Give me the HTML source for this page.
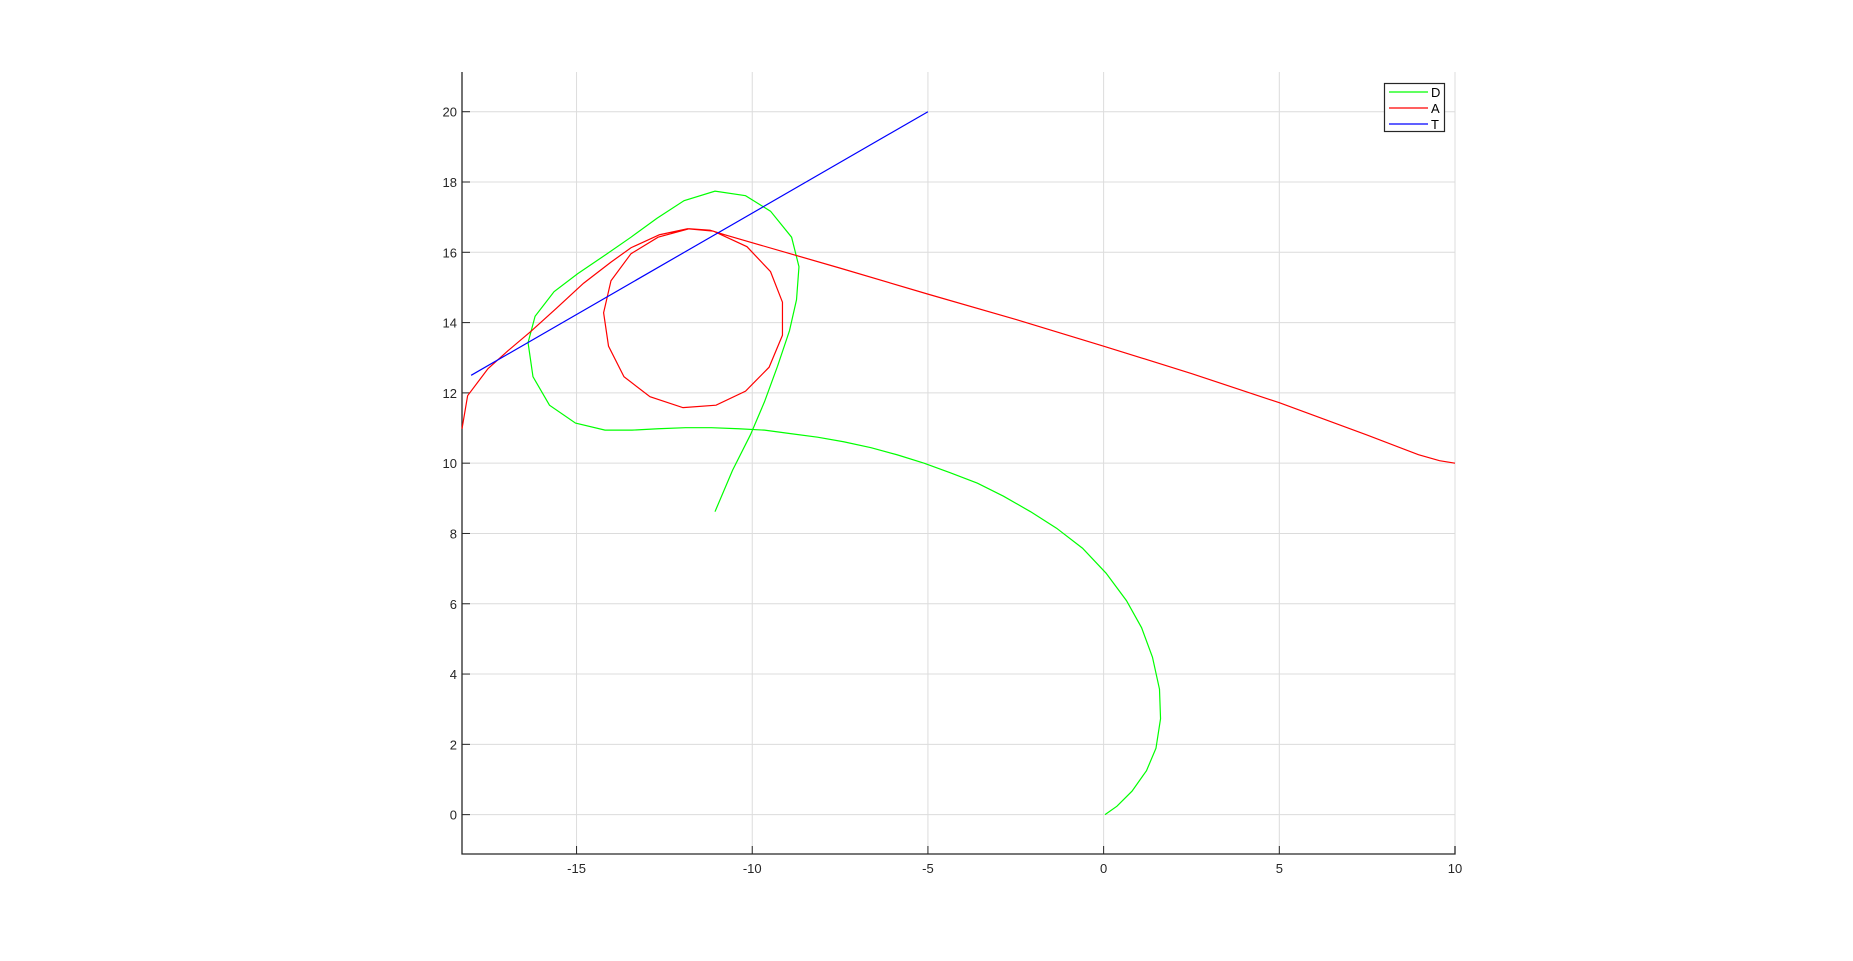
<!DOCTYPE html>
<html><head><meta charset="utf-8"><style>
html,body{margin:0;padding:0;background:#fff;}
svg{display:block;font-family:"Liberation Sans",sans-serif;}
</style></head><body>
<svg id="chart" width="1853" height="961" viewBox="0 0 1853 961" xmlns="http://www.w3.org/2000/svg"></svg>
<script>
const xTicks=[-15,-10,-5,0,5,10];
const yTicks=[0,2,4,6,8,10,12,14,16,18,20];
const seriesNames=["D","A","T"];
const seriesColors=["#00ff00","#ff0000","#0000ff"];
const dX=[0.04,0.38,0.81,1.22,1.49,1.62,1.59,1.39,1.08,0.65,0.07,-0.6,-1.34,-2.08,-2.85,-3.59,-4.37,-5.11,-5.88,-6.62,-7.4,-8.14,-8.91,-9.65,-10.39,-11.16,-11.9,-12.68,-13.42,-14.19,-15.03,-15.77,-16.24,-16.38,-16.18,-15.64,-14.97,-14.23,-13.45,-12.71,-11.94,-11.06,-10.19,-9.48,-8.88,-8.67,-8.74,-8.94,-9.28,-9.65,-10.05,-10.56,-11.06];
const dY=[0,0.24,0.67,1.25,1.89,2.73,3.57,4.48,5.32,6.09,6.87,7.58,8.15,8.62,9.06,9.43,9.73,10.0,10.24,10.44,10.61,10.74,10.84,10.94,10.98,11.01,11.01,10.98,10.94,10.94,11.14,11.65,12.46,13.43,14.18,14.88,15.39,15.89,16.43,16.97,17.47,17.74,17.61,17.17,16.43,15.59,14.65,13.77,12.76,11.75,10.81,9.8,8.62];
const aX=[-18.26,-18.1,-17.52,-16.95,-16.31,-15.57,-14.8,-14.02,-13.45,-12.64,-11.84,-11.1,-10.15,-9.48,-9.14,-9.14,-9.52,-10.19,-11.03,-11.97,-12.91,-13.65,-14.09,-14.23,-14.02,-13.45,-12.68,-11.8,-11.2,-10.79,-7.5,-5,-2.5,0,2.5,5,7.5,8.96,9.56,10];
const aY=[10.98,11.92,12.69,13.2,13.74,14.41,15.12,15.72,16.13,16.5,16.67,16.6,16.16,15.45,14.58,13.64,12.73,12.05,11.65,11.58,11.89,12.46,13.33,14.28,15.19,15.96,16.43,16.67,16.63,16.5,15.55,14.81,14.09,13.33,12.55,11.72,10.8,10.24,10.07,10];
const tX=[-18,-5];
const tY=[12.5,20];
const L=462,R=1455,T=72,B=854;
const xMin=-18.26,xMax=10,yMin=-1.12,yMax=21.13;
const sx=v=>L+(v-xMin)/(xMax-xMin)*(R-L);
const sy=v=>B-(v-yMin)/(yMax-yMin)*(B-T);
const svg=document.getElementById('chart');
const NS="http://www.w3.org/2000/svg";
function mk(tag,attrs){const e=document.createElementNS(NS,tag);for(const k in attrs)e.setAttribute(k,attrs[k]);svg.appendChild(e);return e;}
xTicks.forEach(v=>{
 const g=mk('line',{x1:sx(v),x2:sx(v),y1:T,y2:B,stroke:'#dcdcdc','stroke-width':1});
 
 
 const t=mk('line',{x1:sx(v),x2:sx(v),y1:B,y2:B-8,stroke:'#262626','stroke-width':1});
 
 
 const l=mk('text',{x:sx(v),y:B+19,'text-anchor':'middle','font-size':13,fill:'#262626'});
 l.textContent=v;
 
 
});
yTicks.forEach(v=>{
 const g=mk('line',{x1:L,x2:R,y1:sy(v),y2:sy(v),stroke:'#dcdcdc','stroke-width':1});
 
 
 const t=mk('line',{x1:L,x2:L+8,y1:sy(v),y2:sy(v),stroke:'#262626','stroke-width':1});
 
 
 const l=mk('text',{x:L-5,y:sy(v)+5,'text-anchor':'end','font-size':13,fill:'#262626'});
 l.textContent=v;
 
 
});
const ax=mk('path',{d:`M${L} ${T}V${B}H${R}V${B-8}`,fill:'none',stroke:'#262626','stroke-width':1.3});


function line(xs,ys,c,name){
 const p=mk('polyline',{points:xs.map((x,i)=>sx(x)+','+sy(ys[i])).join(' '),fill:'none',stroke:c,'stroke-width':1.2});
 
 
}
line(dX,dY,seriesColors[0],'series-d');
line(aX,aY,seriesColors[1],'series-a');
line(tX,tY,seriesColors[2],'series-t');
const lg=mk('rect',{x:1384.5,y:83.5,width:60,height:48,fill:'#fff',stroke:'#262626','stroke-width':1.2});


seriesNames.forEach((n,i)=>{
 const y=92+i*16;
 const s=mk('line',{x1:1389,x2:1428,y1:y,y2:y,stroke:seriesColors[i],'stroke-width':1.2});
 
 
 const t=mk('text',{x:1431,y:y+5,'font-size':13,fill:'#000'});
 t.textContent=n;
 
 
});
</script>
</body></html>
